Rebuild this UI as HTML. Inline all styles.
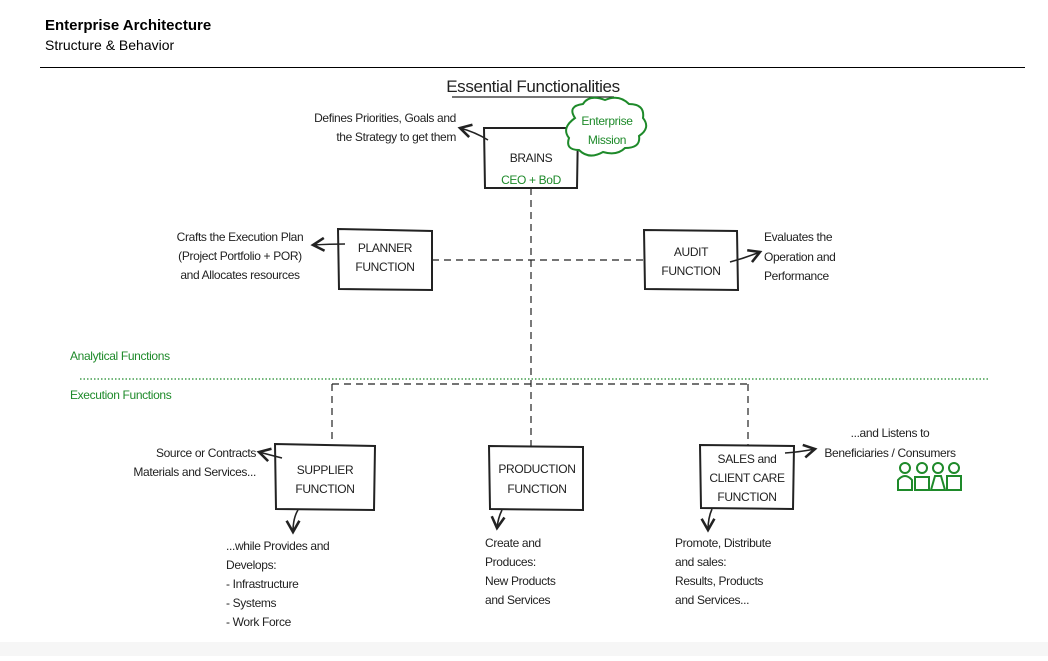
<!DOCTYPE html>
<html><head><meta charset="utf-8"><style>
body{margin:0;background:#fff;width:1048px;height:656px;overflow:hidden;font-family:"Liberation Sans",sans-serif}
svg text{font-family:"Liberation Sans",sans-serif;font-size:12px;fill:#222;letter-spacing:-0.35px}
.g{fill:#1e8a2a}
</style></head><body>
<svg width="1048" height="656" xmlns="http://www.w3.org/2000/svg">
<defs><marker id="a" markerWidth="10" markerHeight="10" refX="8" refY="5" orient="auto"><path d="M1,1 L8,5 L1,9" fill="none" stroke="#222" stroke-width="1.6"/></marker></defs>
<text x="45" y="30" style="font-size:15px;font-weight:bold;fill:#000;letter-spacing:0">Enterprise Architecture</text>
<text x="45" y="50" style="font-size:14px;fill:#000;letter-spacing:0">Structure &amp; Behavior</text>
<line x1="40" y1="67.5" x2="1025" y2="67.5" stroke="#000" stroke-width="1"/>
<rect x="0" y="642" width="1048" height="14" fill="#f6f6f6"/>
<text x="533" y="92" text-anchor="middle" style="font-size:17px;fill:#222">Essential Functionalities</text>
<line x1="452" y1="97" x2="614" y2="97" stroke="#222" stroke-width="1.2"/>
<g fill="none" stroke="#222" stroke-dasharray="7,5" stroke-width="1.2">
<line x1="531" y1="188" x2="531" y2="446"/>
<line x1="432" y1="260" x2="644" y2="260"/>
<line x1="332" y1="384" x2="748" y2="384"/>
<line x1="332" y1="384" x2="332" y2="444"/>
<line x1="748" y1="384" x2="748" y2="445"/>
</g>
<line x1="80" y1="379" x2="988" y2="379" stroke="#1e8a2a" stroke-dasharray="1.5,2" stroke-width="1.2"/>
<text x="70" y="360" class="g">Analytical Functions</text>
<text x="70" y="399" class="g">Execution Functions</text>
<g fill="#fff" stroke="#222" stroke-width="2">
<path d="M484,128 L578,128 L577,188 L485,188 Z"/>
<path d="M338,229 L432,231 L432,290 L339,289 Z"/>
<path d="M644,230 L737,231 L738,290 L645,289 Z"/>
<path d="M275,444 L375,446 L374,510 L276,509 Z"/>
<path d="M489,446 L583,447 L583,510 L490,509 Z"/>
<path d="M700,445 L794,446 L793,509 L701,508 Z"/>
</g>
<path d="M575,118 q-8,-12 8,-14 q6,-10 22,-4 q14,-6 24,4 q16,0 14,14 q8,10 -4,18 q2,12 -14,12 q-8,8 -22,4 q-14,8 -24,-2 q-14,0 -10,-12 q-8,-10 6,-20z" fill="#fff" stroke="#1e8a2a" stroke-width="2"/>
<text x="607" y="125" text-anchor="middle" class="g">Enterprise</text>
<text x="607" y="144" text-anchor="middle" class="g">Mission</text>
<text x="531" y="162" text-anchor="middle">BRAINS</text>
<text x="531" y="184" text-anchor="middle" class="g">CEO + BoD</text>
<text x="385" y="252" text-anchor="middle">PLANNER</text>
<text x="385" y="271" text-anchor="middle">FUNCTION</text>
<text x="691" y="256" text-anchor="middle">AUDIT</text>
<text x="691" y="275" text-anchor="middle">FUNCTION</text>
<text x="325" y="474" text-anchor="middle">SUPPLIER</text>
<text x="325" y="493" text-anchor="middle">FUNCTION</text>
<text x="537" y="473" text-anchor="middle">PRODUCTION</text>
<text x="537" y="493" text-anchor="middle">FUNCTION</text>
<text x="747" y="463" text-anchor="middle">SALES and</text>
<text x="747" y="482" text-anchor="middle">CLIENT CARE</text>
<text x="747" y="501" text-anchor="middle">FUNCTION</text>
<g fill="none" stroke="#222" stroke-width="1.6" marker-end="url(#a)">
<path d="M488,140 Q475,132 460,128"/>
<path d="M345,244 Q330,244 313,245"/>
<path d="M730,262 Q745,258 760,252"/>
<path d="M282,458 Q270,455 259,452"/>
<path d="M298,510 Q293,518 293,532"/>
<path d="M502,510 Q498,518 497,528"/>
<path d="M712,509 Q708,518 708,530"/>
<path d="M785,453 Q800,452 815,449"/>
</g>
<text x="456" y="122" text-anchor="end">Defines Priorities, Goals and</text>
<text x="456" y="141" text-anchor="end">the Strategy to get them</text>
<text x="240" y="241" text-anchor="middle">Crafts the Execution Plan</text>
<text x="240" y="260" text-anchor="middle">(Project Portfolio + POR)</text>
<text x="240" y="279" text-anchor="middle">and Allocates resources</text>
<text x="764" y="241">Evaluates the</text>
<text x="764" y="261">Operation and</text>
<text x="764" y="280">Performance</text>
<text x="256" y="457" text-anchor="end">Source or Contracts</text>
<text x="256" y="476" text-anchor="end">Materials and Services...</text>
<text x="226" y="550">...while Provides and</text>
<text x="226" y="569">Develops:</text>
<text x="226" y="588">- Infrastructure</text>
<text x="226" y="607">- Systems</text>
<text x="226" y="626">- Work Force</text>
<text x="485" y="547">Create and</text>
<text x="485" y="566">Produces:</text>
<text x="485" y="585">New Products</text>
<text x="485" y="604">and Services</text>
<text x="675" y="547">Promote, Distribute</text>
<text x="675" y="566">and sales:</text>
<text x="675" y="585">Results, Products</text>
<text x="675" y="604">and Services...</text>
<text x="890" y="437" text-anchor="middle">...and Listens to</text>
<text x="890" y="457" text-anchor="middle">Beneficiaries / Consumers</text>
<g fill="none" stroke="#1e8a2a" stroke-width="2">
<circle cx="905" cy="468" r="5"/><path d="M898,490 L898,480 Q905,472 912,480 L912,490 Z"/>
<circle cx="922" cy="468" r="5"/><rect x="915" y="477" width="14" height="13"/>
<circle cx="938" cy="468" r="5"/><path d="M931,490 L935,476 L941,476 L945,490 Z"/>
<circle cx="954" cy="468" r="5"/><rect x="947" y="476" width="14" height="14"/>
</g>
</svg>
</body></html>
